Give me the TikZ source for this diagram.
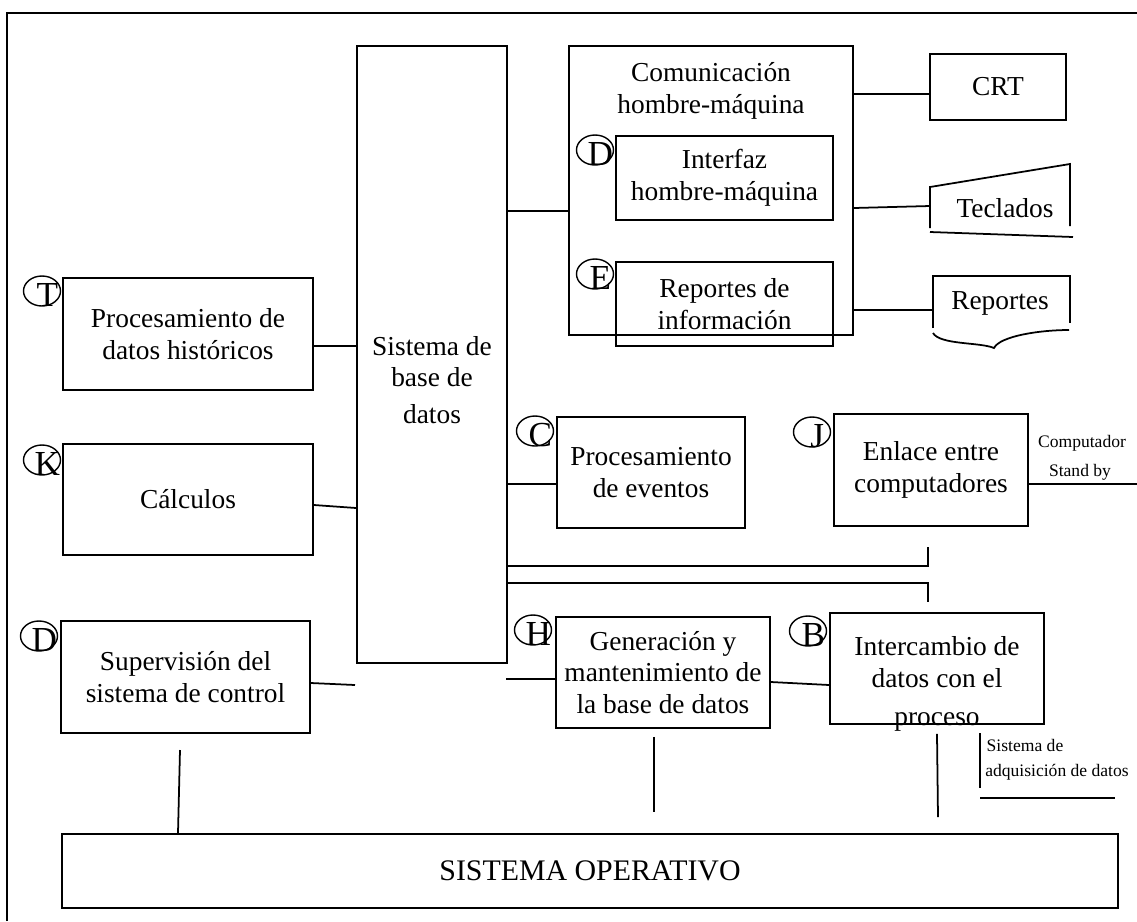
\documentclass[tikz,border=0pt]{standalone}
\usepackage{fontspec}
\setmainfont{Liberation Serif}
\usetikzlibrary{shapes.geometric}

\tikzset{
  ln/.style={line width=1pt},
  box/.style={draw, line width=1pt, rectangle, inner sep=0pt, align=center,
    font=\fontsize{15.6}{18}\selectfont},
  txt/.style={inner sep=0pt, align=center, font=\fontsize{15.6}{18}\selectfont},
  small/.style={inner sep=0pt, font=\fontsize{10}{11}\selectfont},
  tagc/.style={draw, ellipse, line width=0.8pt, minimum width=0.74cm,
    minimum height=0.6cm, inner sep=0pt},
  tagl/.style={inner sep=0pt, font=\fontsize{20}{20}\selectfont}
}

\begin{document}
\begin{tikzpicture}[x=0.02cm, y=-0.02cm]
  \useasboundingbox (0,0) rectangle (1137,921);
  \draw[line width=1.1pt] (7,921) -- (7,13) -- (1137,13); % marco

  % bloques
  \node[box, minimum width=3cm, minimum height=12.34cm] (bd) at (432,354.5) {};
  \node[txt] (bdT) at (432,380) {Sistema de\\base de\\[3pt]datos};
  \node[box, minimum width=5cm, minimum height=2.24cm] (hist) at (188,334)
    {Procesamiento de\\datos históricos};
  \node[box, minimum width=5cm, minimum height=2.22cm] (calc) at (188,499.5) {Cálculos};
  \node[box, minimum width=4.98cm, minimum height=2.24cm] (superv) at (185.5,677)
    {Supervisión del\\sistema de control};
  \node[box, minimum width=5.68cm, minimum height=5.78cm] (comun) at (711,190.5) {};
  \node[txt] (comunT) at (711,91) {Comunicación\\hombre-máquina};
  \node[box, minimum width=4.34cm, minimum height=1.68cm] (interf) at (724.5,178)
    {Interfaz\\hombre-máquina};
  \node[box, minimum width=4.34cm, minimum height=1.68cm] (repinf) at (724.5,304)
    {Reportes de\\información};
  \node[box, minimum width=2.72cm, minimum height=1.32cm] (crt) at (998,87) {CRT};
  \node[box, minimum width=3.76cm, minimum height=2.22cm] (event) at (651,472.5)
    {Procesamiento\\de eventos};
  \node[box, minimum width=3.88cm, minimum height=2.24cm] (enlace) at (931,470)
    {Enlace entre\\computadores};
  \node[box, minimum width=4.28cm, minimum height=2.22cm] (gener) at (663,672.5)
    {Generación y\\mantenimiento de\\la base de datos};
  \node[box, minimum width=4.28cm, minimum height=2.22cm] (interc) at (937,668.5) {};
  \node[txt] (intercT) at (937,684) {Intercambio de\\datos con el\\[4pt]proceso};
  \node[box, minimum width=21.12cm, minimum height=1.48cm,
    font=\fontsize{17}{20}\selectfont] (so) at (590,871) {SISTEMA OPERATIVO};

  % teclados y reportes
  \draw[ln] (930,228) -- (930,187) -- (1070,164) -- (1070,226);
  \draw[ln] (930,232) -- (1073,237);
  \node[txt] (tecl) at (1005,208) {Teclados};
  \draw[ln] (933,328) -- (933,276) -- (1070,276) -- (1070,323);
  \draw[ln] (933,333) .. controls (940,345) and (980,342) .. (994,348)
    .. controls (1000,336) and (1040,330) .. (1069,330);
  \node[txt] (rep) at (1000,303) {Reportes};

  % textos chicos
  \node[small] (comp) at (1082,443) {Computador};
  \node[small] (stby) at (1080,472) {Stand by};
  \node[small] (adq1) at (1025,745) {Sistema de};
  \node[small] (adq2) at (1057,772) {adquisición de datos};

  % marcas
  \foreach \nm/\px/\py/\lt in {mT/42/291/T, mK/42/460/K, mDa/39/636/D,
      mDb/595/150/D, mE/595/274/E, mC/535/431/C, mJ/812/432/J,
      mH/533/630/H, mB/808/631/B}{
    \node[tagc] (\nm) at (\px,\py) {};
    \node[tagl] (\nm l) at ([xshift=3pt,yshift=-2.5pt]\nm) {\lt};
  }

  % conexiones
  \coordinate (sv) at (355,685);
  \coordinate (svb) at (180,750);
  \coordinate (gl) at (506,679);
  \coordinate (gb) at (654,812);
  \coordinate (ib) at (938,817);
  \coordinate (sb) at (1137,484);
  \draw[ln] (hist.east |- 0,346) -- (bd.west |- 0,346);
  \draw[ln] (calc.east |- 0,505) -- (bd.west |- 0,508);
  \draw[ln] (superv.east |- 0,683) -- (sv);
  \draw[ln] (svb) -- (so.north -| 178,0);
  \draw[ln] (bd.east |- 0,211) -- (comun.west |- 0,211);
  \draw[ln] (comun.east |- 0,94) -- (crt.west |- 0,94);
  \draw[ln] (comun.east |- 0,208) -- (930,206);
  \draw[ln] (comun.east |- 0,310) -- (933,310);
  \draw[ln] (bd.east |- 0,484) -- (event.west |- 0,484);
  \draw[ln] (bd.east |- 0,566) -- (928,566) -- (928,547);
  \draw[ln] (bd.east |- 0,583) -- (928,583) -- (928,602);
  \draw[ln] (gl) -- (gener.west |- gl);
  \draw[ln] (gener.east |- 0,682) -- (interc.west |- 0,685);
  \draw[ln] (gener.south -| gb) ++(0,8) -- (gb);
  \draw[ln] (interc.south -| 937,0) ++(0,9) -- (ib);
  \draw[ln] (enlace.east |- sb) -- (sb);
  \draw[ln] (980,733) -- (980,788);
  \draw[ln] (980,798) -- (1115,798);
\end{tikzpicture}
\end{document}
